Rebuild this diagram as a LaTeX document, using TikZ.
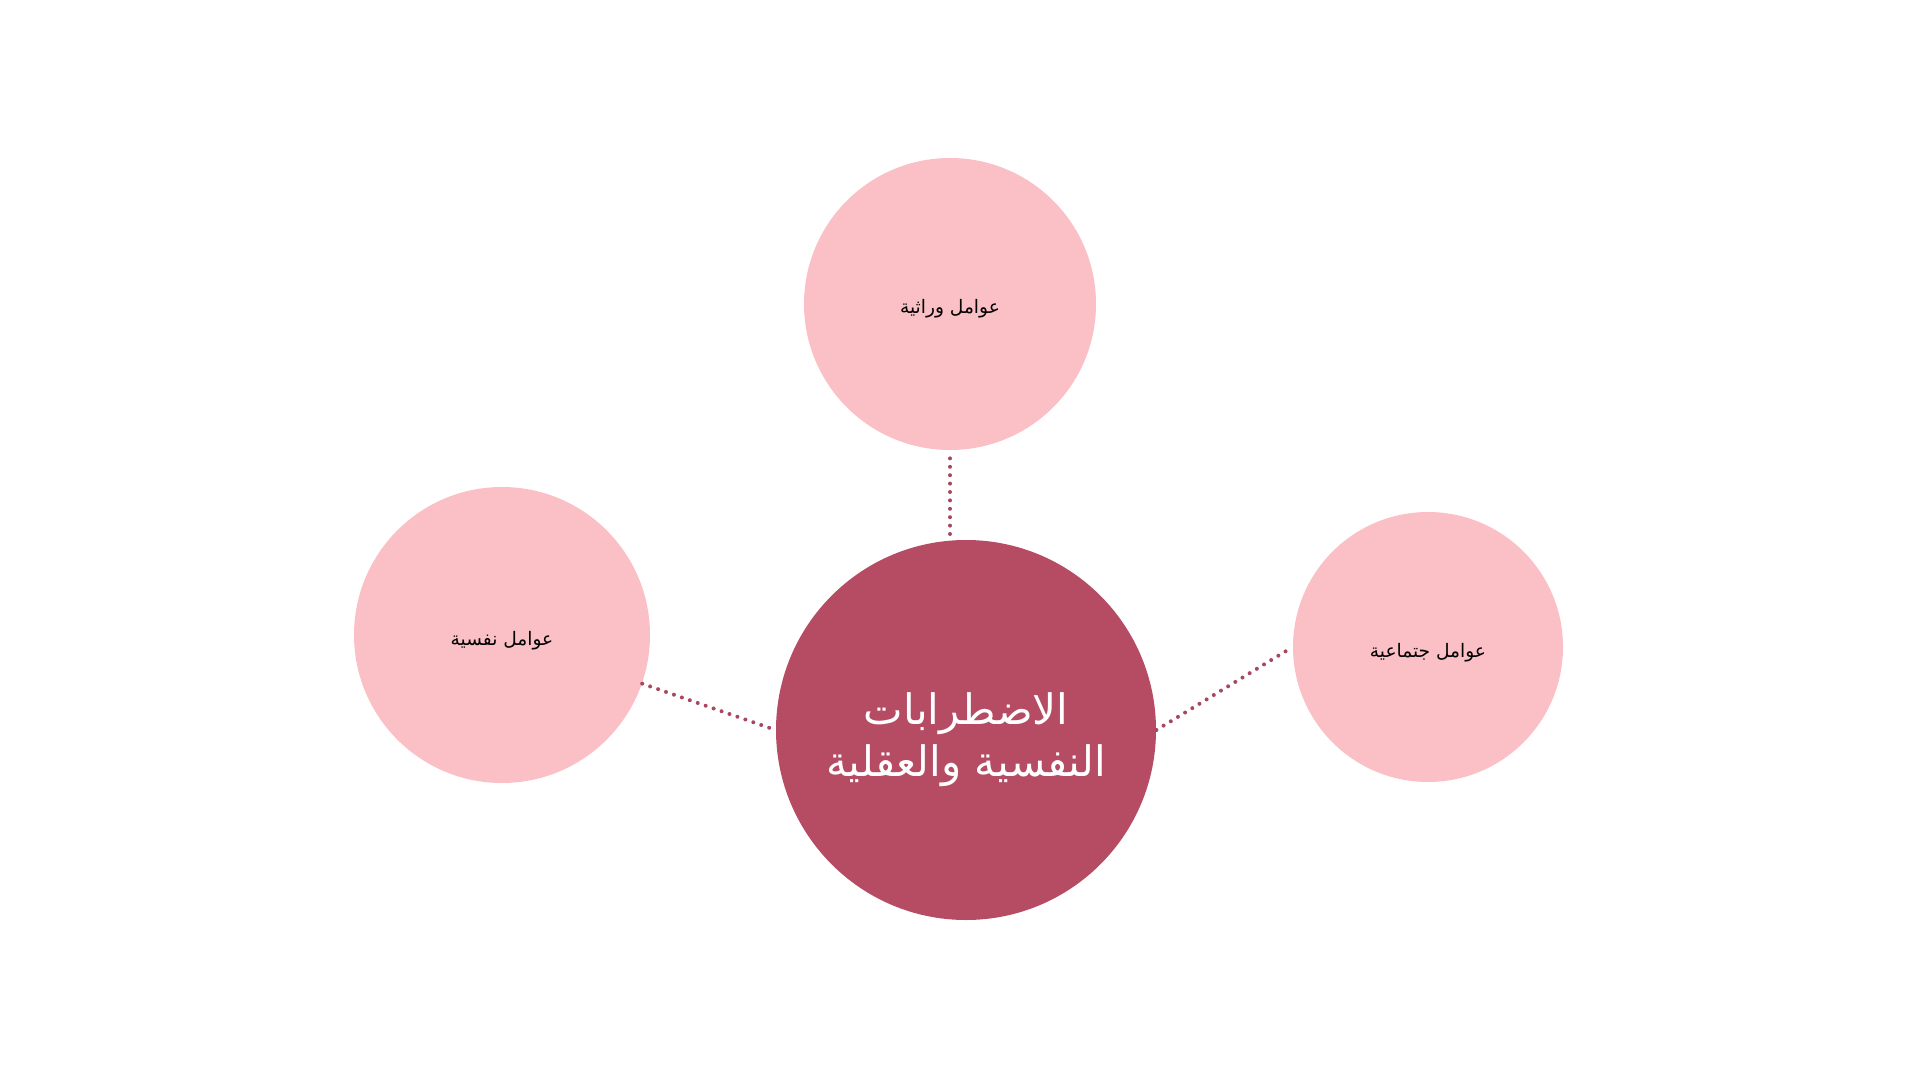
\documentclass[tikz,border=0pt]{standalone}
\usepackage{fontspec}
\usepackage{xcolor}
\usetikzlibrary{positioning, calc}
\TeXXeTstate=1
\newfontfamily\arabicfont[Script=Arabic]{DejaVu Sans}
\definecolor{softpink}{HTML}{FBC0C5}
\definecolor{rosewood}{HTML}{B64C64}
\definecolor{dotline}{HTML}{A84860}

\begin{document}
\begin{tikzpicture}[
				x=0.5pt, y=-0.5pt,
				factor/.style={circle, fill=softpink, inner sep=0pt, text height=13pt, text depth=3pt, font=\arabicfont\fontsize{9.3}{11}\selectfont, text=black},
				core/.style={circle, fill=rosewood, minimum size=190pt, inner sep=0pt, align=center, text=white, font=\arabicfont\fontsize{21}{26}\selectfont},
				link/.style={dotline, line width=2pt, line cap=round, dash pattern=on 0pt off 4.2pt}
				]
				\useasboundingbox (0,0) rectangle (1920,1080);
				\node[core] (disorders) at (966,730) {\rule{0pt}{26pt}\beginR الاضطرابات\endR\\\beginR النفسية والعقلية\endR};
				\node[factor, minimum size=146pt] (genetic) at (950,304) {\beginR عوامل وراثية\endR};
				\node[factor, minimum size=148pt] (psych) at (502,635) {\beginR عوامل نفسية\endR};
				\node[factor, minimum size=135pt] (social) at (1428,647) {\beginR عوامل جتماعية\endR};
				% connectors
				\draw[link] ($(genetic.south)+(0,8)$) -- ($(disorders.north -| genetic.south)+(0,-4)$);
				\draw[link] (psych) -- (disorders.west);
				\draw[link] (disorders.east) -- (social.west);
			\end{tikzpicture}
\end{document}
